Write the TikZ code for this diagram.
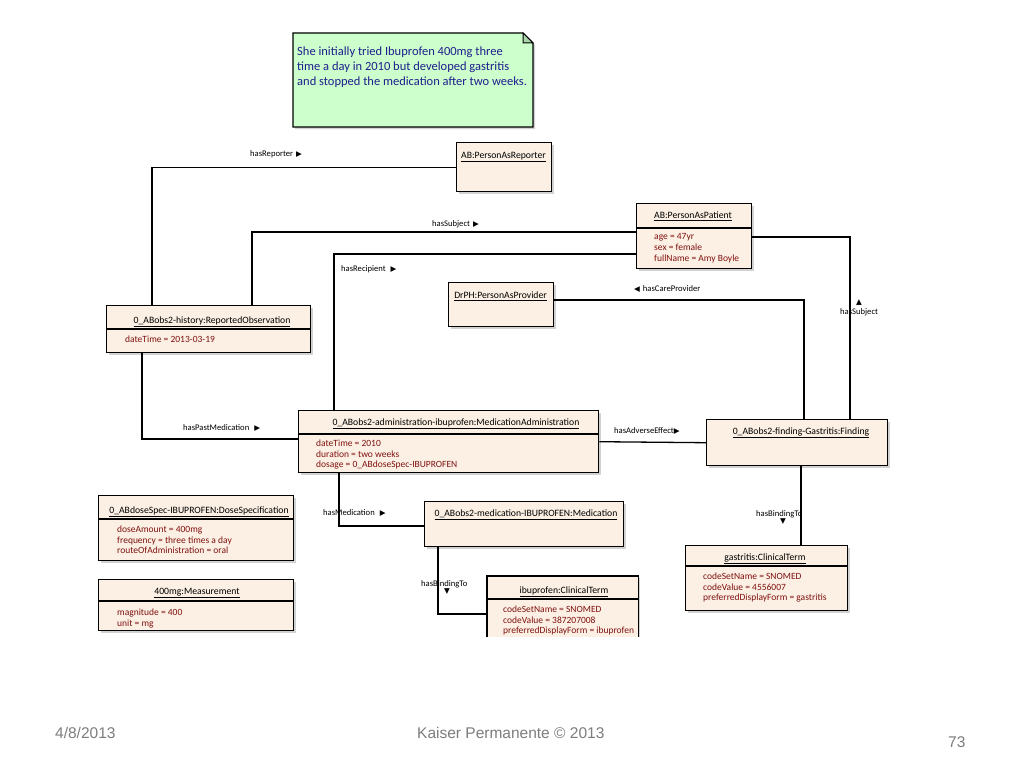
\documentclass[tikz,border=0pt]{standalone}
\usepackage{fontspec}
\setmainfont{Carlito}
\newfontfamily\footfont{Liberation Sans}
\newfontfamily\symfont{DejaVu Sans}
\usetikzlibrary{shadows,calc}
\definecolor{boxfill}{RGB}{251,240,227}
\definecolor{notefill}{RGB}{204,255,204}
\definecolor{notefold}{RGB}{170,215,170}
\definecolor{notetext}{RGB}{30,30,140}
\definecolor{attrred}{RGB}{128,16,16}
\definecolor{footgray}{RGB}{125,125,125}
\newcommand{\arrglyph}[1]{{\symfont\fontsize{7.5}{8}\selectfont #1}}
\newcommand{\umlbox}[5]{\node[umlboxstyle, minimum width={(#4)-(#2)}, minimum height={(#5)-(#3)}] (#1) at (#2,#3) {};}
\tikzset{
  umlboxstyle/.style={draw=black, line width=1.4pt, fill=boxfill, anchor=north west, inner sep=0pt,
    drop shadow={opacity=0.35, shadow xshift=2pt, shadow yshift=-2pt}},
  ttl/.style={font=\fontsize{9.7}{11}\selectfont, inner sep=0pt},
  att/.style={font=\fontsize{9.5}{10.8}\selectfont, text=attrred, anchor=north west, inner sep=0pt, align=left},
  lbl/.style={font=\fontsize{8.6}{9}\selectfont, anchor=west, inner sep=0pt},
  arrnode/.style={inner sep=0pt},
  conn/.style={draw=black, line width=1.3pt},
  divl/.style={line width=1.3pt},
  notetxt/.style={font=\fontsize{12.5}{15}\selectfont, text=notetext, anchor=north west, inner sep=0pt, align=left},
  foot/.style={font=\footfont\fontsize{15.5}{17}\selectfont, text=footgray, anchor=west, inner sep=0pt},
}
\begin{document}
\begin{tikzpicture}[x=1pt,y=-1pt]
\useasboundingbox[fill=white] (0,0) rectangle (1024,768);

% note
\path[draw=black, line width=1.3pt, fill=notefill, drop shadow={opacity=0.35, shadow xshift=2pt, shadow yshift=-2pt}]
  (293,33) -- (523,33) -- (533,43) -- (533,127) -- (293,127) -- cycle;
\draw[line width=1pt, fill=notefold] (523,33) -- (523,43) -- (533,43) -- cycle;
\node[notetxt] (note) at (297,47) {She initially tried Ibuprofen 400mg three\\time a day in 2010 but developed gastritis\\and stopped the medication after two weeks.};

% boxes
\umlbox{rep}{456}{142}{551}{191}
\node[ttl] (rep-t) at (503.5,157) {\underline{AB:PersonAsReporter}};

\umlbox{pat}{636}{203}{751}{268}
\node[ttl] (pat-t) at (693,216) {\underline{AB:PersonAsPatient}};
\draw[divl] (pat.west |- 0,228) -- (pat.east |- 0,228);
\node[att] (pat-a) at (654,233.5) {age = 47yr\\sex = female\\fullName = Amy Boyle};

\umlbox{prov}{448}{282}{553}{326}
\node[ttl] (prov-t) at (500.5,296) {\underline{DrPH:PersonAsProvider}};

\umlbox{hist}{106}{305}{310}{352}
\node[ttl] (hist-t) at (212,322) {\underline{0\_ABobs2-history:ReportedObservation}};
\draw[divl] (hist.west |- 0,329) -- (hist.east |- 0,329);
\node[att] (hist-a) at (125,335.5) {dateTime = 2013-03-19};

\umlbox{adm}{298}{410}{598}{472}
\node[ttl] (adm-t) at (456,424) {\underline{0\_ABobs2-administration-ibuprofen:MedicationAdministration}};
\draw[divl] (adm.west |- 0,434) -- (adm.east |- 0,434);
\node[att] (adm-a) at (316,439.5) {dateTime = 2010\\duration = two weeks\\dosage = 0\_ABdoseSpec-IBUPROFEN};

\umlbox{find}{706}{419}{887}{465}
\node[ttl] (find-t) at (801,433) {\underline{0\_ABobs2-finding-Gastritis:Finding}};

\umlbox{med}{424}{501}{623}{546}
\node[ttl] (med-t) at (526,515) {\underline{0\_ABobs2-medication-IBUPROFEN:Medication}};

\umlbox{dose}{98}{495}{293}{560}
\node[ttl] (dose-t) at (199,512) {\underline{0\_ABdoseSpec-IBUPROFEN:DoseSpecification}};
\draw[divl] (dose.west |- 0,519) -- (dose.east |- 0,519);
\node[att] (dose-a) at (117,525.5) {doseAmount = 400mg\\frequency = three times a day\\routeOfAdministration = oral};

\umlbox{meas}{98}{579}{293}{630}
\node[ttl] (meas-t) at (197,593) {\underline{400mg:Measurement}};
\draw[divl] (meas.west |- 0,601) -- (meas.east |- 0,601);
\node[att] (meas-a) at (117,608.5) {magnitude = 400\\unit = mg};

\umlbox{gas}{685}{545}{847}{610}
\node[ttl] (gas-t) at (765,559) {\underline{gastritis:ClinicalTerm}};
\draw[divl] (gas.west |- 0,566) -- (gas.east |- 0,566);
\node[att] (gas-a) at (703,572.5) {codeSetName = SNOMED\\codeValue = 4556007\\preferredDisplayForm = gastritis};

% clipped clinical term box
\begin{scope}
\clip (480,560) rectangle (641,636);
\node[fill=boxfill, anchor=north west, inner sep=0pt, minimum width=151, minimum height=70,
  drop shadow={opacity=0.35, shadow xshift=2pt, shadow yshift=-2pt}] (ibu) at (487,576) {};
\draw[line width=1.4pt] (ibu.south west) -- (ibu.north west) -- (ibu.north east) -- (ibu.south east);
\node[ttl] (ibu-t) at (564,592) {\underline{ibuprofen:ClinicalTerm}};
\draw[divl] (ibu.west |- 0,599) -- (ibu.east |- 0,599);
\begin{scope}
\clip (487,560) rectangle (637,636);
\node[att] (ibu-a) at (503,605.5) {codeSetName = SNOMED\\codeValue = 387207008\\preferredDisplayForm = ibuprofen};
\end{scope}
\end{scope}

% connectors
\draw[conn] (rep.west) -| ($(hist.north west)+(46,0)$);
\draw[conn] ($(pat.north west)+(0,29)$) -| ($(hist.north west)+(146,0)$);
\draw[conn] ($(pat.north west)+(0,51)$) -| ($(adm.north west)+(36,0)$);
\draw[conn] ($(pat.north east)+(0,34)$) -| ($(find.north west)+(144,0)$);
\draw[conn] ($(prov.north east)+(0,18)$) -| ($(find.north west)+(98,0)$);
\draw[conn] ($(hist.south west)+(36,0)$) |- ($(adm.north west)+(0,29)$);
\draw[conn] (adm.east) -- (find.west);
\draw[conn] ($(adm.south west)+(41,0)$) |- ($(med.north west)+(0,25)$);
\draw[conn] ($(med.south west)+(14,0)$) |- ($(ibu.north west)+(0,38)$);
\draw[conn] ($(find.south west)+(95,0)$) -- ($(gas.north west)+(116,0)$);

% connector labels
\node[lbl] (l-rep) at (250,154) {hasReporter\hspace{3pt}\arrglyph{▶}};
\node[lbl] (l-subj) at (432,224) {hasSubject\hspace{3pt}\arrglyph{▶}};
\node[lbl] (l-recip) at (341,269) {hasRecipient\hspace{5pt}\arrglyph{▶}};
\node[lbl] (l-care) at (634,289) {\arrglyph{◀}\hspace{3pt}hasCareProvider};
\node[lbl] (l-subj2) at (840,312) {hasSubject};
\node[arrnode] (l-subj2a) at (859,303) {\arrglyph{▲}};
\node[lbl] (l-past) at (183,428) {hasPastMedication\hspace{5pt}\arrglyph{▶}};
\node[lbl] (l-adv) at (614,431) {hasAdverseEffect\arrglyph{▶}};
\node[lbl] (l-med) at (323,513) {hasMedication\hspace{5pt}\arrglyph{▶}};
\node[lbl] (l-bind1) at (421,584) {hasBindingTo};
\node[arrnode] (l-bind1a) at (447,592) {\arrglyph{▼}};
\node[lbl] (l-bind2) at (756,514) {hasBindingTo};
\node[arrnode] (l-bind2a) at (783,522) {\arrglyph{▼}};

% footer
\node[foot] (f-date) at (55,733) {4/8/2013};
\node[foot] (f-kp) at (417,733) {Kaiser Permanente © 2013};
\node[foot] (f-page) at (948,742) {73};
\end{tikzpicture}
\end{document}
